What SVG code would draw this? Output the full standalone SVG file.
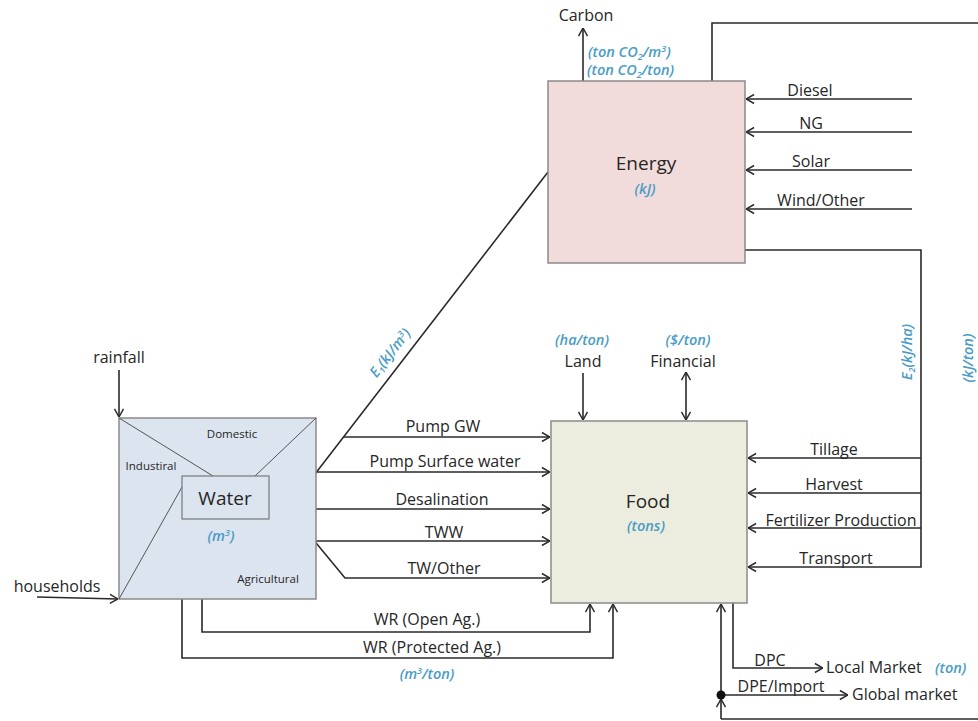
<svg xmlns="http://www.w3.org/2000/svg" width="978" height="721" viewBox="0 0 978 721">
<style>
text{font-family:"Open Sans","Liberation Sans",sans-serif;fill:#262626}
.l{font-size:16px;text-anchor:middle}
.s{font-size:11.5px;text-anchor:middle}
.big{font-size:19px;text-anchor:middle}
.u{font-size:14.5px;font-style:italic;font-weight:600;fill:#4a9cc6}
.c{text-anchor:middle}
.ln{fill:none;stroke:#2a2a2a;stroke-width:1.6}
.thin{fill:none;stroke:#555;stroke-width:1}
.box{stroke:#8a8a8a;stroke-width:1.5}
</style>
<defs>
<marker id="ah" viewBox="0 0 10 12" refX="10" refY="6" markerWidth="9" markerHeight="12" markerUnits="userSpaceOnUse" orient="auto-start-reverse">
<path d="M1,1 L10,6 L1,11" fill="none" stroke="#2a2a2a" stroke-width="1.6"/>
</marker>
</defs>
<g id="connectors">
<path class="ln" d="M583,81 V28" marker-end="url(#ah)"/>
<path class="ln" d="M712,81 V23 H978"/>
<path class="ln" d="M912,99 H746" marker-end="url(#ah)"/>
<path class="ln" d="M912,132 H746" marker-end="url(#ah)"/>
<path class="ln" d="M912,170 H746" marker-end="url(#ah)"/>
<path class="ln" d="M912,209 H746" marker-end="url(#ah)"/>
<path class="ln" d="M745,250 H921 V567 H748" marker-end="url(#ah)"/>
<path class="ln" d="M921,458 H748" marker-end="url(#ah)"/>
<path class="ln" d="M921,493 H748" marker-end="url(#ah)"/>
<path class="ln" d="M921,528 H748" marker-end="url(#ah)"/>
<path class="ln" d="M288,509 L548,172"/>
<path class="ln" d="M343.5,437 H550" marker-end="url(#ah)"/>
<path class="ln" d="M316.5,472 H550" marker-end="url(#ah)"/>
<path class="ln" d="M288,509 H550" marker-end="url(#ah)"/>
<path class="ln" d="M288,509 L345,578 H550" marker-end="url(#ah)"/>
<path class="ln" d="M314,541 H550" marker-end="url(#ah)"/>
<path class="ln" d="M119,370 V417" marker-end="url(#ah)"/>
<path class="ln" d="M37,597 L118,599" marker-end="url(#ah)"/>
<path class="ln" d="M583,373 V420" marker-end="url(#ah)"/>
<path class="ln" d="M686,372 V420" marker-start="url(#ah)" marker-end="url(#ah)"/>
<path class="ln" d="M202,599 V632 H590 V604" marker-end="url(#ah)"/>
<path class="ln" d="M182,599 V658 H613 V604" marker-end="url(#ah)"/>
<path class="ln" d="M733,603 V668 H823" marker-end="url(#ah)"/>
<path class="ln" d="M721,697 V604" marker-end="url(#ah)"/>
<path class="ln" d="M721,719 V699" marker-end="url(#ah)"/>
<path class="ln" d="M721,719 H978"/>
<path class="ln" d="M721,695 H848" marker-end="url(#ah)"/>
<circle cx="721" cy="695" r="4.5" fill="#111"/>
</g>
<g id="energy">
<rect class="box" x="548" y="81" width="197" height="182" fill="#f2dcdb"/>
<text class="big" x="646" y="170">Energy</text>
<text class="u c" x="645" y="194">(kJ)</text>
</g>
<g id="food">
<rect class="box" x="551" y="421" width="196" height="182" fill="#ecedde"/>
<text class="big" x="648" y="508">Food</text>
<text class="u c" x="646" y="531">(tons)</text>
</g>
<g id="water">
<rect class="box" x="119" y="418" width="197" height="181" fill="#dce4ef"/>
<path class="thin" d="M119,418 L213,476 M316,418 L255,476 M119,599 L182,487"/>
<rect x="182" y="476" width="87" height="43" fill="#dce4ef" stroke="#777" stroke-width="1.2"/>
<text class="big" x="225" y="505">Water</text>
<text class="u c" x="221" y="541">(m<tspan font-size="9" dy="-5">3</tspan><tspan dy="5">)</tspan></text>
<text class="s" x="232" y="438">Domestic</text>
<text class="s" x="151" y="470">Industiral</text>
<text class="s" x="268" y="583">Agricultural</text>
</g>
<g id="labels">
<text class="l" x="586" y="21">Carbon</text>
<text class="u" x="588" y="57">(ton CO<tspan font-size="9" dy="3">2</tspan><tspan dy="-3">/m</tspan><tspan font-size="9" dy="-5">3</tspan><tspan dy="5">)</tspan></text>
<text class="u" x="587" y="75">(ton CO<tspan font-size="9" dy="3">2</tspan><tspan dy="-3">/ton)</tspan></text>
<text class="l" x="810" y="96">Diesel</text>
<text class="l" x="811" y="129">NG</text>
<text class="l" x="811" y="167">Solar</text>
<text class="l" x="821" y="206">Wind/Other</text>
<text class="l" x="834" y="455">Tillage</text>
<text class="l" x="834" y="490">Harvest</text>
<text class="l" x="841" y="526">Fertilizer Production</text>
<text class="l" x="836" y="564">Transport</text>
<text class="u c" transform="translate(912,352) rotate(-90)">E<tspan font-size="9" dy="3">2</tspan><tspan dy="-3">(kJ/ha)</tspan></text>
<text class="u c" transform="translate(973,358) rotate(-90)">(kJ/ton)</text>
<text class="u c" transform="translate(394,356) rotate(-52)">E<tspan font-size="9" dy="3">1</tspan><tspan dy="-3">(kJ/m</tspan><tspan font-size="9" dy="-5">3</tspan><tspan dy="5">)</tspan></text>
<text class="l" x="443" y="432">Pump GW</text>
<text class="l" x="445" y="467">Pump Surface water</text>
<text class="l" x="442" y="505">Desalination</text>
<text class="l" x="444" y="538">TWW</text>
<text class="l" x="444" y="574">TW/Other</text>
<text class="l" x="119" y="363">rainfall</text>
<text class="l" x="57" y="592">households</text>
<text class="u c" x="582" y="345">(ha/ton)</text>
<text class="l" x="583" y="367">Land</text>
<text class="u c" x="688" y="345">($/ton)</text>
<text class="l" x="683" y="367">Financial</text>
<text class="l" x="427" y="625">WR (Open Ag.)</text>
<text class="l" x="432" y="653">WR (Protected Ag.)</text>
<text class="u c" x="427" y="679">(m<tspan font-size="9" dy="-5">3</tspan><tspan dy="5">/ton)</tspan></text>
<text class="l" x="770" y="666">DPC</text>
<text class="l" x="826" y="673" style="text-anchor:start">Local Market</text>
<text class="u" x="935" y="673">(ton)</text>
<text class="l" x="781" y="692">DPE/Import</text>
<text class="l" x="852" y="700" style="text-anchor:start">Global market</text>
</g>
</svg>
